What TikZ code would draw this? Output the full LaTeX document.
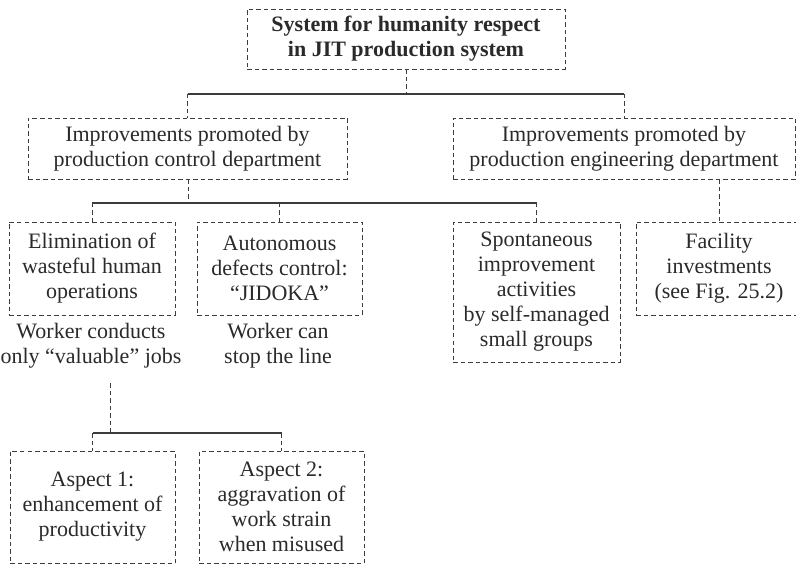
\documentclass[tikz,border=0pt]{standalone}
\usepackage{fontspec}
\setmainfont{Liberation Serif}
\usetikzlibrary{positioning}
\definecolor{ink}{HTML}{2A2A2A}
\definecolor{boxline}{HTML}{3C3C3C}

\tikzset{
  dashbox/.style={draw=boxline,line width=0.9pt,dash pattern=on 4.5pt off 3pt,
    inner sep=0pt,align=center,text=ink,font=\fontsize{22}{25}\selectfont},
  link/.style={draw=boxline,line width=0.9pt,dash pattern=on 4.5pt off 3pt},
  bus/.style={draw=boxline,line width=1.4pt},
  note/.style={align=center,text=ink,font=\fontsize{22}{25}\selectfont}
}

\begin{document}
\begin{tikzpicture}[x=1pt,y=-1pt]
  \useasboundingbox (0,0) rectangle (796,564);
  % top level
  \node[dashbox,minimum width=318,minimum height=60,font=\fontsize{22}{25}\selectfont\bfseries]
    (sys) at (406,39) {System for humanity respect\\in JIT production system};
  \node[dashbox,minimum width=319,minimum height=61] (ctrl) at (187.5,148.5)
    {Improvements promoted by\\production control department};
  \node[dashbox,minimum width=342,minimum height=61] (eng) at (624,148.5)
    {Improvements promoted by\\production engineering department};
  % second level
  \node[dashbox,minimum width=166,minimum height=93] (elim) at (92,268.5)
    {Elimination of\\wasteful human\\operations};
  \node[dashbox,minimum width=165,minimum height=93] (jidoka) at (279.5,268.5)
    {Autonomous\\defects control:\\``JIDOKA''};
  \node[dashbox,minimum width=167,minimum height=140] (spont) at (536.5,292)
    {Spontaneous\\improvement\\activities\\by self-managed\\small groups};
  \node[dashbox,minimum width=166,minimum height=93] (facil) at (719,268.5)
    {Facility\\investments\\(see Fig. 25.2)};
  \node[note] (wk1) at (91,346) {Worker conducts\\only ``valuable'' jobs};
  \node[note] (wk2) at (278,346) {Worker can\\stop the line};
  % aspects
  \node[dashbox,minimum width=165,minimum height=112] (asp1) at (92.5,507)
    {Aspect 1:\\enhancement of\\productivity};
  \node[dashbox,minimum width=165,minimum height=112] (asp2) at (281.5,507)
    {Aspect 2:\\aggravation of\\work strain\\when misused};

  \coordinate (b1) at (406,94);
  \coordinate (b2) at (188,203);
  \coordinate (b3) at (110,433);
  \coordinate (w3) at (110,383);

  \draw[link] (sys.south) -- (b1);
  \draw[bus] (ctrl.north |- b1) -- (eng.north |- b1);
  \foreach \n in {ctrl,eng}
    \draw[link] (\n.north |- b1) -- (\n.north);

  \draw[link] (ctrl.south -| b2) -- (b2);
  \draw[bus] (elim.north |- b2) -- (spont.north |- b2);
  \foreach \n in {elim,jidoka,spont}
    \draw[link] (\n.north |- b2) -- (\n.north);
  \draw[link] (eng.south -| facil.north) -- (facil.north);

  \draw[link] (w3) -- (b3);
  \draw[bus] (asp1.north |- b3) -- (asp2.north |- b3);
  \foreach \n in {asp1,asp2}
    \draw[link] (\n.north |- b3) -- (\n.north);
\end{tikzpicture}
\end{document}
